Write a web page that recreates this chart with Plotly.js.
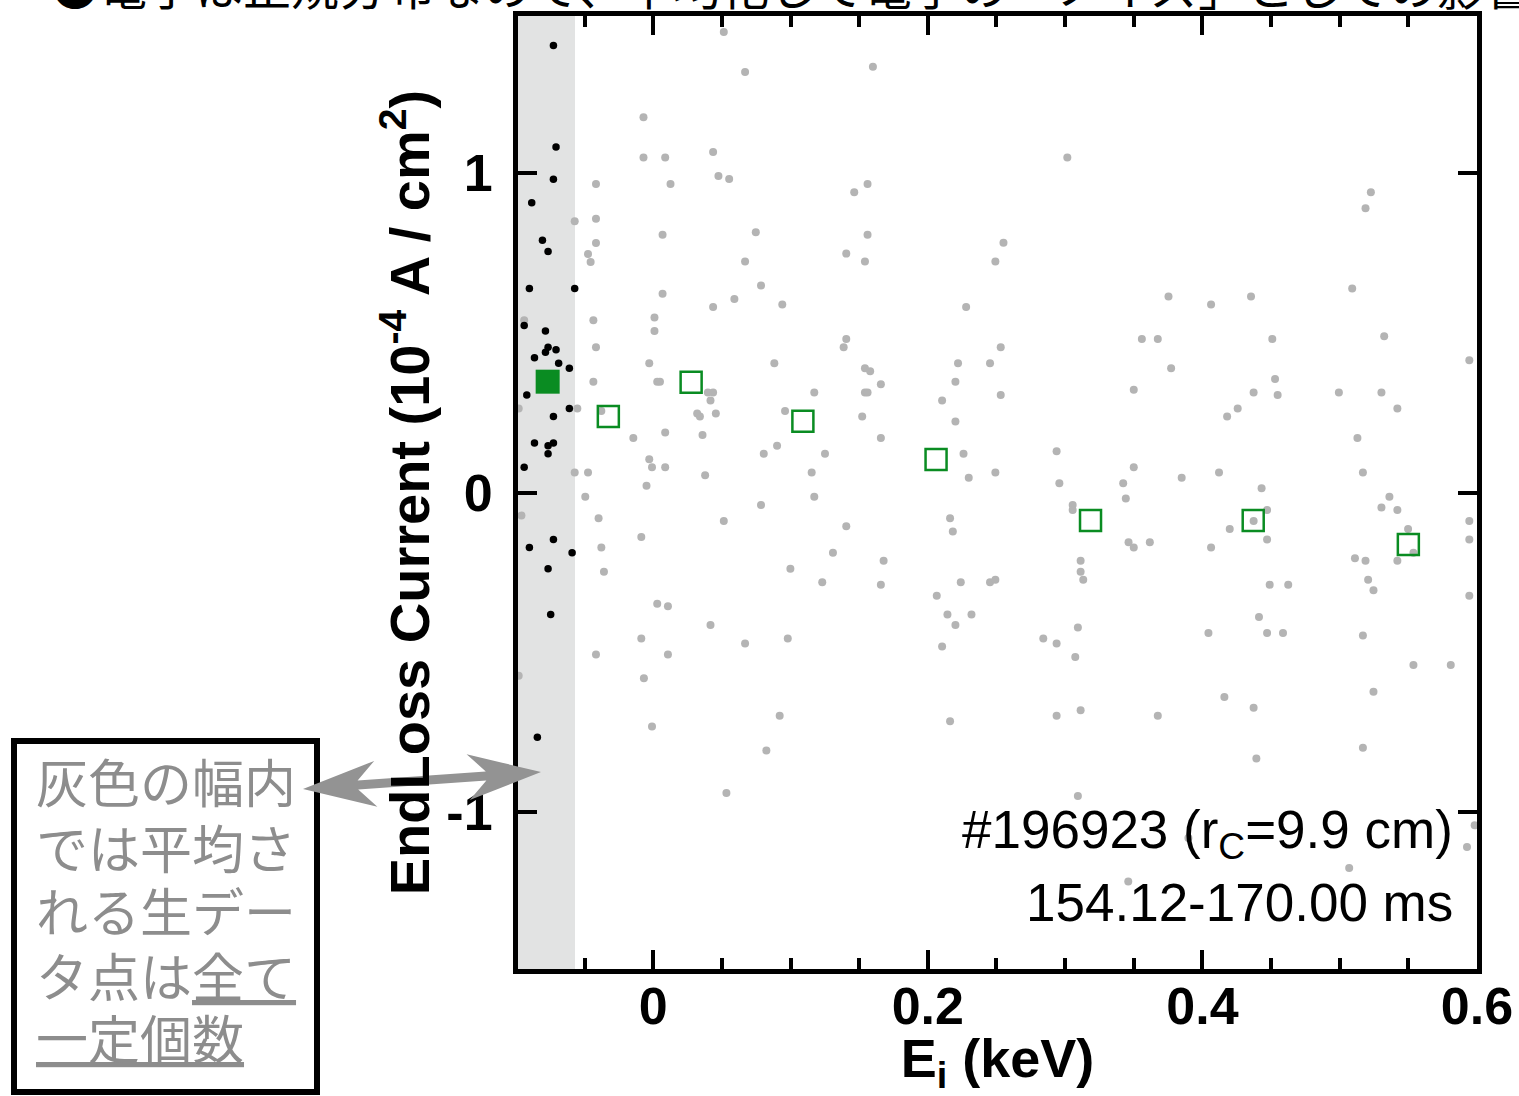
<!DOCTYPE html>
<html>
<head>
<meta charset="utf-8">
<script src="https://cdn.plot.ly/plotly-3.0.1.min.js"></script>
<style>
html, body { margin: 0; padding: 0; background: #ffffff; }
#chart { width: 1519px; height: 1096px; }
</style>
</head>
<body>
<div id="chart"></div>
<script>
// ---------------- DATA ----------------
// Raw end-loss current samples (grey) : Ei (keV), current (1e-4 A/cm^2)
const grayX = [
  -0.0071,-0.0071,0.0087,-0.0417,0.0126,-0.0572,-0.0417,0.0068,-0.0417,-0.0475,-0.0456,0.0068,-0.0436,0.0009,0.0009,-0.0940,
  -0.0417,-0.0029,-0.0436,0.0029,0.0049,-0.098,-0.0553,-0.0378,0.032,-0.0145,0.0087,-0.0029,-0.0009,0.0087,-0.0572,-0.0475,
  -0.0049,-0.0495,-0.096,-0.0398,-0.0087,-0.0378,-0.0359,0.0029,0.0107,-0.0087,-0.0417,0.0107,-0.098,-0.0068,-0.0009,
  0.0514,0.0669,0.160,0.3016,0.0436,0.0475,0.0553,0.1464,0.1561,0.0747,0.1561,0.2551,0.1406,0.0669,0.1542,0.2492,
  0.0785,0.0591,0.0436,0.094,0.2279,0.1406,0.1387,0.2531,0.0882,0.222,0.2453,0.1542,0.158,0.2201,0.1658,0.0398,
  0.0436,0.1173,0.1542,0.1561,0.2531,0.0417,0.2104,0.096,0.034,0.0456,0.1522,0.2201,0.0359,0.1658,0.0902,0.0805,
  0.1251,0.226,0.2938,0.0378,0.1154,0.2298,0.2492,0.2958,0.1173,
  0.0785,0.0514,0.1406,0.2162,0.2182,0.3055,0.3055,0.1309,0.1678,0.3113,0.3113,0.3132,0.0999,0.1231,0.1658,0.224,
  0.2453,0.2492,0.2065,0.2143,0.2318,0.2201,0.0417,0.3093,0.0669,0.098,0.2841,0.2938,0.2104,0.3074,0.0921,0.2162,
  0.2938,0.3113,0.0824,0.0533,0.3093,
  0.5227,0.5188,0.5091,0.3753,0.4354,0.4063,0.5324,0.3559,0.3675,0.4509,0.5944,0.3772,0.35,0.4529,0.4373,0.4548,
  0.4994,0.5304,0.4257,0.418,0.542,0.5129,0.35,0.3423,0.3849,0.4121,0.5169,0.4431,0.5362,0.3442,
  0.5304,0.542,0.4471,0.4199,0.4373,0.4471,0.3462,0.35,0.3617,0.4063,0.5498,0.5537,0.542,0.5111,0.5188,0.5207,
  0.5246,0.5944,0.5944,0.5944,0.449,0.4625,0.4412,0.4044,0.4471,0.4587,0.5169,0.5537,0.5809,0.5246,0.416,0.4373,
  0.3675,0.5169,0.4393,0.5983,0.5927,0.5069,0.346,0.3898
];
const grayY = [
  1.175,1.049,1.049,0.966,0.966,0.849,0.857,0.807,0.781,0.747,0.722,0.622,0.539,0.548,0.506,0.539,
  0.455,0.405,0.347,0.347,0.347,0.263,0.263,0.255,0.247,0.171,0.188,0.104,0.079,0.079,0.063,0.063,
  0.021,-0.013,-0.072,-0.081,-0.139,-0.172,-0.248,-0.348,-0.356,-0.457,-0.507,-0.507,-0.574,-0.582,-0.733,
  1.442,1.317,1.333,1.049,1.066,0.991,0.982,0.940,0.966,0.815,0.807,0.782,0.748,0.723,0.723,0.723,
  0.648,0.606,0.581,0.589,0.581,0.481,0.455,0.455,0.405,0.405,0.405,0.389,0.380,0.347,0.339,0.313,
  0.313,0.313,0.313,0.313,0.305,0.288,0.288,0.255,0.238,0.247,0.238,0.222,0.180,0.171,0.146,0.121,
  0.121,0.121,0.129,0.054,0.063,0.046,0.063,0.029,-0.013,
  -0.039,-0.089,-0.106,-0.081,-0.122,-0.039,-0.055,-0.189,-0.214,-0.214,-0.248,-0.273,-0.239,-0.281,-0.289,-0.281,
  -0.281,-0.273,-0.323,-0.382,-0.382,-0.415,-0.415,-0.423,-0.473,-0.457,-0.457,-0.473,-0.482,-0.515,-0.699,-0.716,
  -0.699,-0.682,-0.808,-0.941,-0.950,
  0.940,0.890,0.639,0.614,0.614,0.589,0.489,0.481,0.481,0.481,0.414,0.389,0.322,0.355,0.313,0.305,
  0.313,0.313,0.263,0.238,0.263,0.171,0.079,0.029,0.046,0.063,0.063,0.013,-0.013,-0.019,
  -0.047,-0.055,-0.055,-0.114,-0.089,-0.147,-0.156,-0.172,-0.156,-0.172,-0.114,-0.189,-0.214,-0.206,-0.214,-0.273,
  -0.306,-0.089,-0.147,-0.323,-0.289,-0.289,-0.390,-0.440,-0.440,-0.440,-0.448,-0.540,-0.540,-0.624,-0.640,-0.674,
  -0.699,-0.799,-0.833,-1.042,-1.110,-1.176,-1.218,-1.082
];
// Raw samples inside the grey averaging window (black)
const blackX = [
  -0.0727,-0.0708,-0.0727,-0.0885,-0.0807,-0.0766,-0.0902,-0.0572,-0.0940,-0.0785,-0.0766,-0.0708,-0.0785,-0.0865,-0.0689,
  -0.0611,-0.0921,-0.0611,-0.0727,-0.0865,-0.0727,-0.0766,-0.0766,-0.0940,-0.0727,-0.0902,-0.0591,-0.0766,-0.0747,-0.0844
];
const blackY = [
  1.400,1.082,0.981,0.907,0.790,0.755,0.639,0.639,0.523,0.506,0.455,0.447,0.439,0.422,0.405,
  0.389,0.305,0.263,0.238,0.155,0.155,0.146,0.121,0.079,-0.147,-0.172,-0.189,-0.239,-0.382,-0.766
];
// Window averages (open green squares)
const avgX = [-0.0327, 0.0276, 0.109, 0.206, 0.3185, 0.437, 0.550];
const avgY = [0.238, 0.345, 0.223, 0.103, -0.088, -0.088, -0.163];
// Average of the highlighted window (filled green square)
const bandAvgX = [-0.0769];
const bandAvgY = [0.347];
// Highlighted averaging window (keV)
const bandRange = [-0.1, -0.057];

const xTickVals = [0, 0.2, 0.4, 0.6];
const xTickText = ['0', '0.2', '0.4', '0.6'];
const yTickVals = [-1, 0, 1];
const yTickText = ['-1', '0', '1'];

const xTitle = 'E<sub>i</sub> (keV)';
const yTitle = 'EndLoss Current (10<sup>-4</sup> A / cm<sup>2</sup>)';
const shotLabel = '#196923 (r<sub>C</sub>=9.9 cm)';
const timeLabel = '154.12-170.00 ms';
const topNote = '●電子は正規分布なので、平均化して電子の「ノイズ」としての影響';
const boxLines = ['灰色の幅内', 'では平均さ', 'れる生デー', 'タ点は<u>全て</u>', '<u>一定個数</u>'];

// ---------------- LAYOUT HELPERS ----------------
const W = 1519, H = 1096;
const M = {l: 518, r: 42, t: 16, b: 127, pad: 0};
const PW = W - M.l - M.r, PH = H - M.t - M.b;
const fx = p => (p - M.l) / PW;          // page px -> paper x
const fy = p => (H - M.b - p) / PH;      // page px -> paper y

const LAT = 'Liberation Sans, Arial, Helvetica, sans-serif';
const CJK = 'Noto Sans CJK JP, Noto Sans, sans-serif';
const GREEN = '#0a8c22';
const NOTE_GRAY = '#8d8d8d';

// double-headed barbed arrow (page px)
const arrowPts = [[303,789],[374.2,760.9],[357.6,780.6],[485.8,771.4],[466.6,754.3],[541,772],
                  [469.8,800.1],[486.4,780.4],[358.2,789.6],[377.4,806.7]];
const arrowPath = 'M' + arrowPts.map(p => fx(p[0]).toFixed(5) + ',' + fy(p[1]).toFixed(5)).join('L') + 'Z';

const boxLineY = [780, 846, 909, 974, 1036];

const traces = [
  {type: 'scatter', mode: 'markers', x: grayX, y: grayY, name: 'raw',
   marker: {color: '#b4b4b4', size: 8}, hoverinfo: 'skip'},
  {type: 'scatter', mode: 'markers', x: blackX, y: blackY, name: 'raw in window',
   marker: {color: '#000000', size: 7.5}, hoverinfo: 'skip'},
  {type: 'scatter', mode: 'markers', x: avgX, y: avgY, name: 'average',
   marker: {symbol: 'square-open', color: GREEN, size: 21, line: {width: 2.5, color: GREEN}}, hoverinfo: 'skip'},
  {type: 'scatter', mode: 'markers', x: bandAvgX, y: bandAvgY, name: 'window average',
   marker: {symbol: 'square', color: GREEN, size: 24, line: {width: 0}}, hoverinfo: 'skip'}
];

const axisCommon = {
  showline: true, linewidth: 5, linecolor: '#000000', mirror: 'ticks',
  ticks: 'inside', ticklen: 19, tickwidth: 4, tickcolor: '#000000',
  showgrid: false, zeroline: false, tickmode: 'array',
  tickfont: {family: LAT, size: 52, color: '#000000', weight: 'bold'}
};

const layout = {
  width: W, height: H,
  margin: M,
  paper_bgcolor: '#ffffff', plot_bgcolor: '#ffffff',
  showlegend: false,
  xaxis: Object.assign({}, axisCommon, {
    range: [-0.0985, 0.6],
    tickvals: xTickVals, ticktext: xTickText,
    ticklabelstandoff: -12,
    minor: {tickmode: 'linear', tick0: 0, dtick: 0.05, ticks: 'inside', ticklen: 11, tickwidth: 4,
            tickcolor: '#000000', showgrid: false},
    title: {text: xTitle, standoff: 20, font: {family: LAT, size: 54, color: '#000000', weight: 'bold'}}
  }),
  yaxis: Object.assign({}, axisCommon, {
    range: [-1.492, 1.492],
    tickvals: yTickVals, ticktext: yTickText,
    ticklabelstandoff: 10,
    title: {text: yTitle, standoff: 0, font: {family: LAT, size: 56, color: '#000000', weight: 'bold'}}
  }),
  shapes: [
    {type: 'rect', xref: 'x', yref: 'paper', x0: bandRange[0], x1: bandRange[1], y0: 0, y1: 1,
     fillcolor: '#e2e3e3', line: {width: 0}, layer: 'below'},
    {type: 'rect', xref: 'paper', yref: 'paper', x0: fx(14), x1: fx(317), y0: fy(1092), y1: fy(741),
     fillcolor: 'rgba(0,0,0,0)', line: {color: '#000000', width: 6}, layer: 'above'},
    {type: 'path', xref: 'paper', yref: 'paper', path: arrowPath,
     fillcolor: '#939393', line: {width: 0}, layer: 'above'}
  ],
  annotations: [
    {xref: 'paper', yref: 'paper', x: fx(1455), y: fy(833), xanchor: 'right', yanchor: 'middle',
     text: shotLabel, showarrow: false, font: {family: LAT, size: 53, color: '#000000'}},
    {xref: 'paper', yref: 'paper', x: fx(1455), y: fy(902), xanchor: 'right', yanchor: 'middle',
     text: timeLabel, showarrow: false, font: {family: LAT, size: 53, color: '#000000'}},
    {xref: 'paper', yref: 'paper', x: fx(49), y: fy(21), xanchor: 'left', yanchor: 'bottom',
     text: topNote, showarrow: false, font: {family: CJK, size: 48, color: '#000000'}}
  ].concat(boxLines.map((t, i) => ({
     xref: 'paper', yref: 'paper', x: fx(34), y: fy(boxLineY[i]), xanchor: 'left', yanchor: 'middle',
     text: t, showarrow: false, align: 'left', font: {family: CJK, size: 52, color: NOTE_GRAY}
  })))
};

Plotly.newPlot('chart', traces, layout, {displayModeBar: false, staticPlot: true});
</script>
</body>
</html>
